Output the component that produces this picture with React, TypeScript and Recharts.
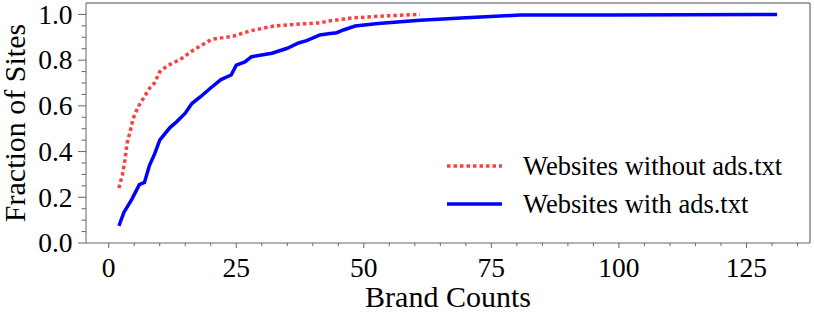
import { LineChart, Line, XAxis, YAxis, Legend, ReferenceLine } from 'recharts';

// brand counts (x) and CDF fraction (y)
const withAdsX = [2, 3, 4.5, 6, 7, 8, 9, 10, 12, 13.3, 14.3, 15, 16.3, 18, 19.8, 22, 24, 25, 26.7, 28, 32, 35, 37.2, 38.8, 41.4, 43.4, 44.7, 46, 48.3, 52.8, 61, 70, 80.6, 98, 131];
const withAdsY = [0.075, 0.135, 0.19, 0.255, 0.265, 0.34, 0.39, 0.45, 0.505, 0.53, 0.552, 0.568, 0.61, 0.64, 0.675, 0.715, 0.735, 0.778, 0.792, 0.815, 0.83, 0.852, 0.875, 0.885, 0.91, 0.917, 0.92, 0.932, 0.949, 0.96, 0.975, 0.985, 0.997, 0.998, 1.0];

const withoutAdsX = [2, 2.7, 3.2, 3.6, 4.2, 4.8, 5.8, 6.8, 8, 9, 10, 11.4, 14, 16.6, 19.3, 20.2, 24.4, 27.7, 32.3, 37.5, 41.4, 43, 47.9, 54.5, 61];
const withoutAdsY = [0.24, 0.3, 0.365, 0.437, 0.487, 0.546, 0.597, 0.633, 0.677, 0.701, 0.749, 0.774, 0.803, 0.844, 0.88, 0.891, 0.905, 0.928, 0.949, 0.958, 0.963, 0.971, 0.985, 0.994, 1.0];

const xTicks = [0, 5, 10, 15, 20, 25, 30, 35, 40, 45, 50, 55, 60, 65, 70, 75, 80, 85, 90, 95, 100, 105, 110, 115, 120, 125, 130, 135];
const yTicks = [0, 0.05, 0.1, 0.15, 0.2, 0.25, 0.3, 0.35, 0.4, 0.45, 0.5, 0.55, 0.6, 0.65, 0.7, 0.75, 0.8, 0.85, 0.9, 0.95, 1.0];

const X_DOMAIN: [number, number] = [-4.45, 137.45];
const Y_DOMAIN: [number, number] = [0, 1.05];

const FONT = 'Liberation Serif, Times New Roman, serif';
const AXIS = '#666';
const RED = '#ff3f3f';
const BLUE = '#0000ff';

const tickText = { fontFamily: FONT, fontSize: 27.5, fill: '#000' };
const labelText = { fontFamily: FONT, fontSize: 30, fill: '#000' };

const withAdsData = withAdsX.map((x, i) => ({ x, y: withAdsY[i] }));
const withoutAdsData = withoutAdsX.map((x, i) => ({ x, y: withoutAdsY[i] }));

const legendItems = [
  { name: 'Websites without ads.txt', color: RED, dash: '3.5 3' },
  { name: 'Websites with ads.txt', color: BLUE, dash: undefined },
];

const XTick = (props: any) => {
  const { x, y, payload } = props;
  const v = payload.value;
  const major = v % 25 === 0;
  return (
    <g>
      <line x1={x} x2={x} y1={y} y2={y + (major ? 5 : 3)} stroke={AXIS} />
      {major && (
        <text x={x} y={y + 34} textAnchor="middle" style={tickText}>
          {v}
        </text>
      )}
    </g>
  );
};

const YTick = (props: any) => {
  const { x, y, payload } = props;
  const v = payload.value;
  const major = Math.round(v * 20) % 4 === 0;
  return (
    <g>
      <line x1={x} x2={x - (major ? 8 : 4.5)} y1={y} y2={y} stroke={AXIS} />
      {major && (
        <text x={x - 13.5} y={y + 9.3} textAnchor="end" style={tickText}>
          {v.toFixed(1)}
        </text>
      )}
    </g>
  );
};

const XLabel = (props: any) => {
  const vb = props.viewBox;
  return (
    <text x={vb.x + vb.width / 2} y={vb.y + 64} textAnchor="middle" style={labelText}>
      Brand Counts
    </text>
  );
};

const YLabel = (props: any) => {
  const vb = props.viewBox;
  const cx = vb.x + 25;
  const cy = vb.y + vb.height / 2;
  return (
    <text x={cx} y={cy} transform={`rotate(-90 ${cx} ${cy})`} textAnchor="middle" style={labelText}>
      Fraction of Sites
    </text>
  );
};

const LegendContent = () => (
  <div style={{ fontFamily: FONT, fontSize: 26.5, color: '#000' }}>
    {legendItems.map((it) => (
      <div key={it.name} style={{ display: 'flex', alignItems: 'center', height: 38, whiteSpace: 'nowrap' }}>
        <svg width={55} height={10} style={{ marginRight: 21 }}>
          <line x1={0} x2={55} y1={5} y2={5} stroke={it.color} strokeWidth={3.5} strokeDasharray={it.dash} />
        </svg>
        <span>{it.name}</span>
      </div>
    ))}
  </div>
);

export default function App() {
  return (
    <div style={{ position: 'absolute', left: 0, top: 0, background: '#fff' }}>
      <LineChart width={814} height={318} margin={{ top: 3, right: 4, left: 0, bottom: 0 }}>
        <XAxis
          type="number"
          dataKey="x"
          domain={X_DOMAIN}
          allowDataOverflow
          ticks={xTicks}
          interval={0}
          tickSize={0}
          tickMargin={0}
          tick={(p: any) => <XTick {...p} />}
          axisLine={{ stroke: AXIS }}
          tickLine={false}
          height={75}
          label={<XLabel />}
        />
        <YAxis
          type="number"
          domain={Y_DOMAIN}
          allowDataOverflow
          ticks={yTicks}
          interval={0}
          tickSize={0}
          tickMargin={0}
          tick={(p: any) => <YTick {...p} />}
          axisLine={{ stroke: AXIS }}
          tickLine={false}
          width={86}
          label={<YLabel />}
        />
        <ReferenceLine y={1.05} stroke="#888" strokeWidth={1.5} />
        <ReferenceLine x={137.45} stroke="#888" strokeWidth={1.5} />
        <Legend
          layout="vertical"
          align="center"
          verticalAlign="middle"
          content={<LegendContent />}
          wrapperStyle={{ left: 447, top: 147, width: 'auto' }}
        />
        <Line
          data={withoutAdsData}
          dataKey="y"
          name="Websites without ads.txt"
          type="linear"
          stroke={RED}
          strokeWidth={3.5}
          strokeDasharray="3.5 3"
          dot={false}
          activeDot={false}
          isAnimationActive={false}
        />
        <Line
          data={withAdsData}
          dataKey="y"
          name="Websites with ads.txt"
          type="linear"
          stroke={BLUE}
          strokeWidth={3.5}
          dot={false}
          activeDot={false}
          isAnimationActive={false}
        />
      </LineChart>
    </div>
  );
}
